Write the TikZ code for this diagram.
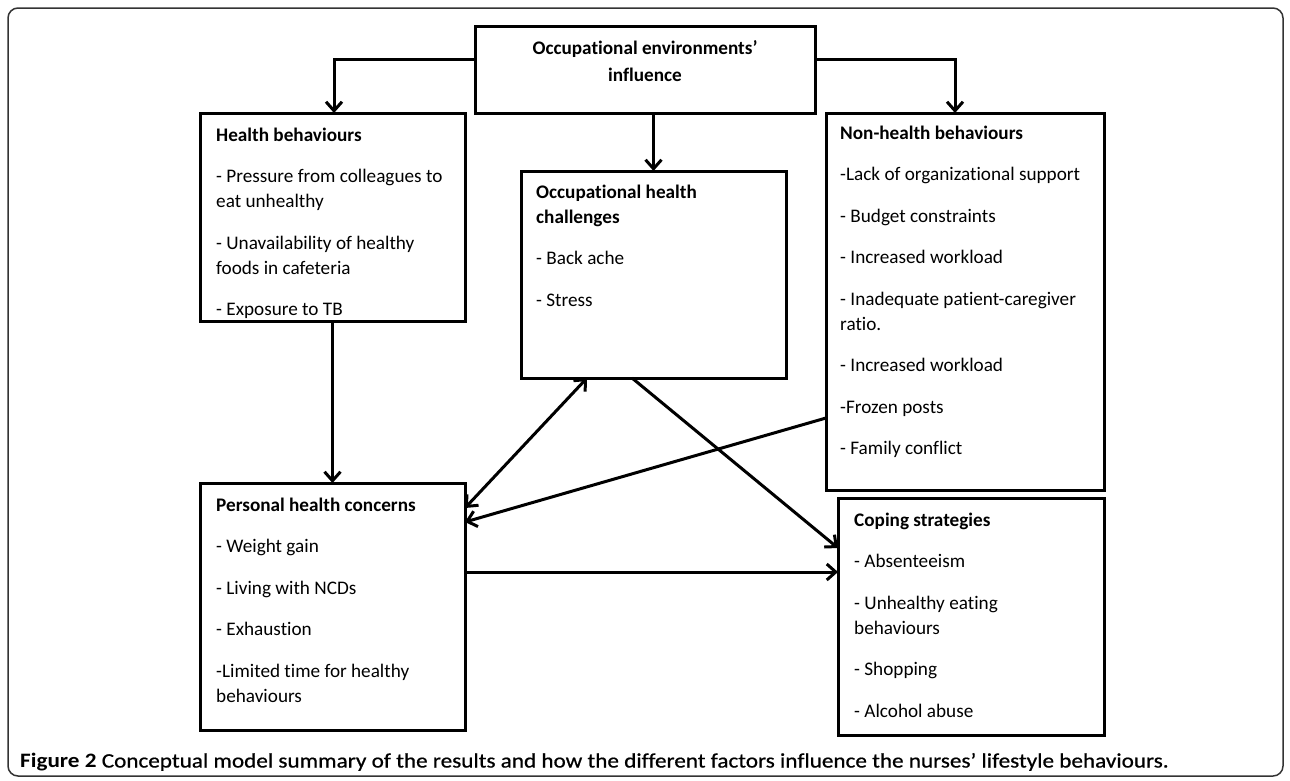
\documentclass[tikz,border=0pt]{standalone}
\usepackage{fontspec}
\setmainfont[Ligatures={NoCommon,NoContextual}]{Carlito}
\newfontfamily\capfont[FakeStretch=1.13,Ligatures={NoCommon,NoContextual}]{Carlito}
\newfontfamily\capsemi[FakeStretch=1.13,FakeBold=0.7,Ligatures={NoCommon,NoContextual}]{Carlito}
\usetikzlibrary{arrows.meta,positioning,calc}
\newcommand{\pgap}{\\[16.5pt]}

\begin{document}
\begin{tikzpicture}[x=1pt,y=-1pt,
  box/.style={draw, line width=3pt, inner sep=0pt, outer sep=0pt, anchor=north west},
  txt/.style={inner sep=0pt, anchor=base west, font=\fontsize{19.2}{25}\selectfont},
  arr/.style={line width=3pt, -{Straight Barb[length=9pt,width=16pt]}},
  arrb/.style={line width=3pt, {Straight Barb[length=9pt,width=16pt]}-{Straight Barb[length=9pt,width=16pt]}}
]
  \useasboundingbox (0,0) rectangle (1290,780);
  \draw[line width=1.5pt, rounded corners=10pt, black!80] (8,8) rectangle (1283,776);

  % boxes
  \node[box, minimum width=340pt, minimum height=87pt]  (env)    at (475,26)  {};
  \node[box, minimum width=265pt, minimum height=208pt] (health) at (200,113) {};
  \node[box, minimum width=265pt, minimum height=207pt] (occ)    at (521,171) {};
  \node[box, minimum width=278pt, minimum height=377pt] (nonh)   at (826,113) {};
  \node[box, minimum width=265pt, minimum height=247pt] (pers)   at (200,483) {};
  \node[box, minimum width=266pt, minimum height=237pt] (cope)   at (838,498) {};

  % texts
  \node[inner sep=0pt, align=center, font=\bfseries\fontsize{19.2}{27}\selectfont] (envT)
    at ([yshift=8pt]env.center) {Occupational environments’\\influence};
  \node[txt] (healthT) at ([xshift=16pt,yshift=-28pt]health.north west)
    {\parbox[t]{245pt}{\raggedright\textbf{Health behaviours}\pgap
     - Pressure from colleagues to\\eat unhealthy\pgap
     - Unavailability of healthy\\foods in cafeteria\pgap
     - Exposure to TB}};
  \node[txt] (occT) at ([xshift=15pt,yshift=-27pt]occ.north west)
    {\parbox[t]{245pt}{\raggedright\textbf{Occupational health}\\\textbf{challenges}\pgap
     - Back ache\pgap
     - Stress}};
  \node[txt] (nonhT) at ([xshift=14pt,yshift=-26pt]nonh.north west)
    {\parbox[t]{260pt}{\raggedright\textbf{Non-health behaviours}\pgap
     -Lack of organizational support\pgap
     - Budget constraints\pgap
     - Increased workload\pgap
     - Inadequate patient-caregiver\\ratio.\pgap
     - Increased workload\pgap
     -Frozen posts\pgap
     - Family conflict}};
  \node[txt] (persT) at ([xshift=16pt,yshift=-28pt]pers.north west)
    {\parbox[t]{245pt}{\raggedright\textbf{Personal health concerns}\pgap
     - Weight gain\pgap
     - Living with NCDs\pgap
     - Exhaustion\pgap
     -Limited time for healthy\\behaviours}};
  \node[txt] (copeT) at ([xshift=16pt,yshift=-28pt]cope.north west)
    {\parbox[t]{245pt}{\raggedright\textbf{Coping strategies}\pgap
     - Absenteeism\pgap
     - Unhealthy eating\\behaviours\pgap
     - Shopping\pgap
     - Alcohol abuse}};

  % arrows
  \draw[arr] ([yshift=10.5pt]env.west) -| ([xshift=1.5pt]health.north);
  \draw[arr] ([yshift=10.5pt]env.east) -| ([xshift=-10pt]nonh.north);
  \draw[arr] (occ.north |- env.south) -- (occ.north);
  \draw[arr] (health.south) -- (pers.north);
  \draw[arrb] ([xshift=66pt]occ.south west) -- ([yshift=-25pt]pers.north east);
  \draw[arr] ([yshift=72pt]nonh.south west) -- ([yshift=-39pt]pers.north east);
  \draw[arr] ([xshift=111pt]occ.south west) -- ([yshift=-50pt]cope.north west);
  \coordinate (pc) at ([yshift=34.5pt]pers.east);
  \draw[arr] (pc) -- (pc -| cope.west);

  % caption
  \node[inner sep=0pt, anchor=west, font=\fontsize{20.5}{24}\selectfont] (cap) at (20,762)
    {\capfont\bfseries Figure 2 \capsemi\mdseries Conceptual model summary of the results and how the different factors influence the nurses’ lifestyle behaviours.};
\end{tikzpicture}
\end{document}
